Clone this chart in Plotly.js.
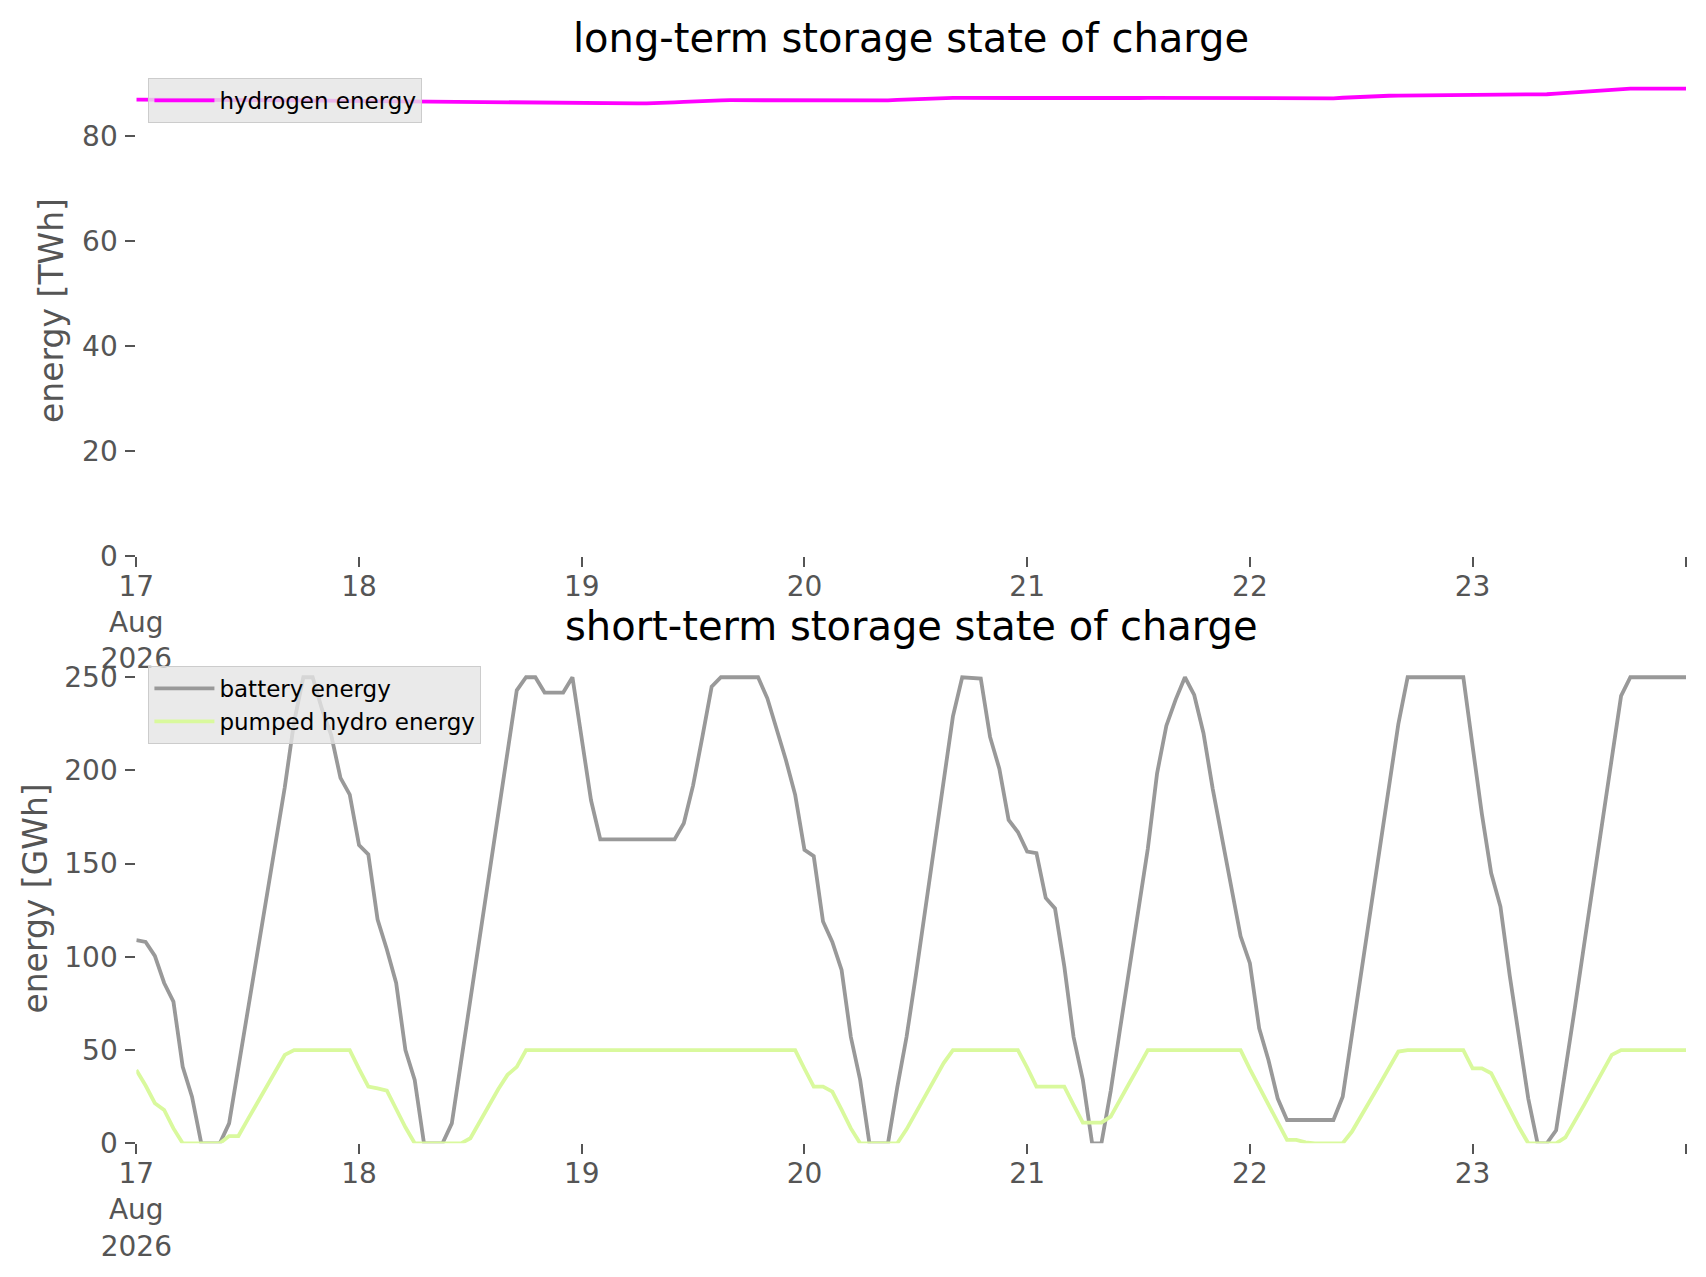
<!DOCTYPE html>
<html>
<head>
<meta charset="utf-8">
<script src="https://cdn.plot.ly/plotly-3.0.1.min.js"></script>
<style>
  body { margin: 0; background: #ffffff; }
  #chart { width: 1706px; height: 1277px; }
</style>
</head>
<body>
<div id="chart"></div>
<script>
// state of charge, one value per hour from 17 Aug 2026 00:00 to 23 Aug 23:00

// long-term storage [TWh]
const hydrogen = [
  87.00, 87.00, 86.99, 86.98, 86.97, 86.96, 86.95, 86.94, 86.93, 86.92, 86.92, 86.92,
  86.92, 86.92, 86.91, 86.90, 86.89, 86.87, 86.85, 86.83, 86.81, 86.79, 86.77, 86.75,
  86.73, 86.71, 86.69, 86.67, 86.65, 86.63, 86.61, 86.60, 86.60, 86.60, 86.60, 86.60,
  86.60, 86.59, 86.58, 86.56, 86.54, 86.52, 86.50, 86.48, 86.46, 86.44, 86.42, 86.40,
  86.38, 86.36, 86.34, 86.32, 86.30, 86.28, 86.27, 86.27, 86.30, 86.38, 86.48, 86.58,
  86.68, 86.76, 86.82, 86.86, 86.88, 86.88, 86.87, 86.86, 86.85, 86.84, 86.83, 86.82,
  86.81, 86.80, 86.79, 86.78, 86.77, 86.76, 86.75, 86.75, 86.78, 86.85, 86.94, 87.03,
  87.12, 87.20, 87.26, 87.30, 87.31, 87.31, 87.30, 87.29, 87.28, 87.27, 87.26, 87.25,
  87.24, 87.23, 87.22, 87.21, 87.20, 87.19, 87.18, 87.18, 87.20, 87.23, 87.26, 87.28,
  87.30, 87.31, 87.31, 87.30, 87.29, 87.28, 87.27, 87.26, 87.25, 87.24, 87.23, 87.22,
  87.21, 87.20, 87.19, 87.18, 87.17, 87.16, 87.15, 87.15, 87.18, 87.25, 87.35, 87.45,
  87.55, 87.63, 87.69, 87.73, 87.75, 87.76, 87.77, 87.78, 87.79, 87.80, 87.81, 87.82,
  87.84, 87.86, 87.88, 87.90, 87.92, 87.94, 87.96, 87.98, 88.02, 88.14, 88.28, 88.42,
  88.56, 88.70, 88.82, 88.94, 89.03, 89.08, 89.10, 89.10, 89.10, 89.10, 89.10, 89.10
];

// short-term storage [GWh]
const battery = [
  109, 108, 100.5, 86, 76, 41, 25, 0, 0, 0, 10.7, 41,
  71, 101, 131, 161, 191, 226, 250, 250, 233, 219, 196, 187,
  160, 155, 120, 104, 86, 50, 34, 0, 0, 0, 10.7, 44,
  77, 110, 143, 177, 210, 243, 250, 250, 241.8, 241.8, 241.8, 250,
  216, 184, 163, 163, 163, 163, 163, 163, 163, 163, 163, 171.7,
  192, 218, 245, 250, 250, 250, 250, 250, 238.7, 222.6, 205.6, 186.9,
  157.4, 154, 119, 108, 93, 57, 34, 0, 0, 0, 30, 57,
  90, 124, 158.6, 193, 229, 250, 249.8, 249.3, 218, 201, 173.5, 167,
  156.5, 155.6, 131.6, 126, 95, 57, 34, 0, 0, 28, 61, 93,
  126, 158, 198.5, 224, 238, 250, 240.5, 220, 190, 164.5, 137, 111,
  96.6, 61.7, 44.7, 24, 12.5, 12.5, 12.5, 12.5, 12.5, 12.5, 25, 58.7,
  92, 125, 159, 192, 225, 250, 250, 250, 250, 250, 250, 250,
  213, 176.7, 145, 127, 90, 57, 24, 0, 0, 7, 38.6, 72,
  106, 139.7, 173, 207, 240, 250, 250, 250, 250, 250, 250, 250
];

const pumped_hydro = [
  39.3, 31, 21.5, 17.9, 8, 0, 0, 0, 0, 0, 3.9, 3.9,
  12.7, 21.5, 30, 38.8, 47.4, 50, 50, 50, 50, 50, 50, 50,
  39.9, 30.4, 29.5, 28.3, 18.4, 8.6, 0, 0, 0, 0, 0, 0,
  2.7, 11.6, 20.2, 29, 36.7, 41, 50, 50, 50, 50, 50, 50,
  50, 50, 50, 50, 50, 50, 50, 50, 50, 50, 50, 50,
  50, 50, 50, 50, 50, 50, 50, 50, 50, 50, 50, 50,
  40, 30.4, 30.4, 27.7, 18, 8, 0, 0, 0, 0, 0, 7.5,
  16.4, 25.4, 34.3, 43, 50, 50, 50, 50, 50, 50, 50, 50,
  40.6, 30.4, 30.4, 30.4, 30.4, 20.6, 11.1, 11.1, 11.1, 14.3, 23.6, 32.2,
  41, 50, 50, 50, 50, 50, 50, 50, 50, 50, 50, 50,
  39.8, 30.2, 20.6, 11, 1.8, 1.8, 0.5, 0, 0, 0, 0, 6.3,
  14.5, 23.2, 31.8, 40.5, 49.2, 50, 50, 50, 50, 50, 50, 50,
  40.2, 40.2, 37.6, 28.3, 18.4, 8.6, 0, 0, 0, 0, 3.2, 11.4,
  20.5, 29.5, 38.6, 47.4, 50, 50, 50, 50, 50, 50, 50, 50
];

// x axis ticks (last one sits on the right end, unlabelled)
const tick_vals = [
  "2026-08-17 00:00", "2026-08-18 00:00", "2026-08-19 00:00", "2026-08-20 00:00",
  "2026-08-21 00:00", "2026-08-22 00:00", "2026-08-23 00:00", "2026-08-23 23:00"
];
const tick_text = ["17<br>Aug<br>2026", "18", "19", "20", "21", "22", "23", ""];

// hourly snapshots
const start = Date.UTC(2026, 7, 17, 0, 0);
var times = [];
for (let i = 0; i < battery.length; i++) {
  var d = new Date(start + i * 3600 * 1000);
  times.push(d.toISOString().slice(0, 16).replace("T", " "));
}

const FONT = "DejaVu Sans, Verdana, sans-serif";
const GREY = "#555555";

var trace_h2 = {
  x: times, y: hydrogen, type: "scatter", mode: "lines",
  name: "hydrogen energy",
  line: { color: "#ff00ff", width: 3.8 },
  xaxis: "x", yaxis: "y", legend: "legend"
};
var trace_bat = {
  x: times, y: battery, type: "scatter", mode: "lines",
  name: "battery energy",
  line: { color: "#999999", width: 3.8 },
  xaxis: "x2", yaxis: "y2", legend: "legend2"
};
var trace_phs = {
  x: times, y: pumped_hydro, type: "scatter", mode: "lines",
  name: "pumped hydro energy",
  line: { color: "#d9f99d", width: 3.8 },
  xaxis: "x2", yaxis: "y2", legend: "legend2"
};

function xaxis(anchor) {
  return {
    type: "date", anchor: anchor,
    domain: [0.0799, 0.9883],
    range: ["2026-08-17 00:00", "2026-08-23 23:00"],
    tickmode: "array", tickvals: tick_vals, ticktext: tick_text,
    ticks: "outside", ticklen: 10, tickwidth: 2, tickcolor: GREY,
    ticklabelstandoff: -5,
    tickfont: { family: FONT, size: 28, color: GREY },
    showgrid: false, zeroline: false, showline: false
  };
}

function yaxis(anchor, dom, top, step) {
  return {
    anchor: anchor, domain: dom, range: [0, top],
    tickmode: "linear", tick0: 0, dtick: step,
    ticks: "outside", ticklen: 10, tickwidth: 2, tickcolor: GREY,
    ticklabelstandoff: 2,
    tickfont: { family: FONT, size: 28, color: GREY },
    showgrid: false, zeroline: false, showline: false
  };
}

var legend_style = {
  xanchor: "left", yanchor: "top",
  bgcolor: "rgba(229,229,229,0.8)", bordercolor: "#cccccc", borderwidth: 1,
  font: { family: FONT, size: 23, color: "#000000" },
  itemwidth: 60, tracegroupgap: 0
};

var layout = {
  width: 1706, height: 1277,
  margin: { l: 0, r: 0, t: 0, b: 0 },
  paper_bgcolor: "#ffffff", plot_bgcolor: "#ffffff",
  showlegend: true,
  xaxis: xaxis("y"),
  yaxis: yaxis("x", [0.5646, 0.9483], 93.4, 20),
  xaxis2: xaxis("y2"),
  yaxis2: yaxis("x2", [0.1047, 0.4879], 262.5, 50),
  legend: Object.assign({ x: 0.087, y: 0.9389 }, legend_style),
  legend2: Object.assign({ x: 0.087, y: 0.4785 }, legend_style),
  annotations: [
    // subplot titles
    { text: "long-term storage state of charge", xref: "paper", yref: "paper",
      x: 0.5341, y: 0.9483, xanchor: "center", yanchor: "bottom", yshift: 3,
      showarrow: false, font: { family: FONT, size: 40, color: "#000000" } },
    { text: "short-term storage state of charge", xref: "paper", yref: "paper",
      x: 0.5341, y: 0.4879, xanchor: "center", yanchor: "bottom", yshift: 3,
      showarrow: false, font: { family: FONT, size: 40, color: "#000000" } },
    // y axis labels
    { text: "energy [TWh]", xref: "paper", yref: "paper",
      x: 52 / 1706, y: 0.7565, xanchor: "center", yanchor: "middle", textangle: -90,
      showarrow: false, font: { family: FONT, size: 33, color: GREY } },
    { text: "energy [GWh]", xref: "paper", yref: "paper",
      x: 36 / 1706, y: 0.2963, xanchor: "center", yanchor: "middle", textangle: -90,
      showarrow: false, font: { family: FONT, size: 33, color: GREY } }
  ]
};

Plotly.newPlot("chart", [trace_h2, trace_bat, trace_phs], layout, { staticPlot: true });
</script>
</body>
</html>
